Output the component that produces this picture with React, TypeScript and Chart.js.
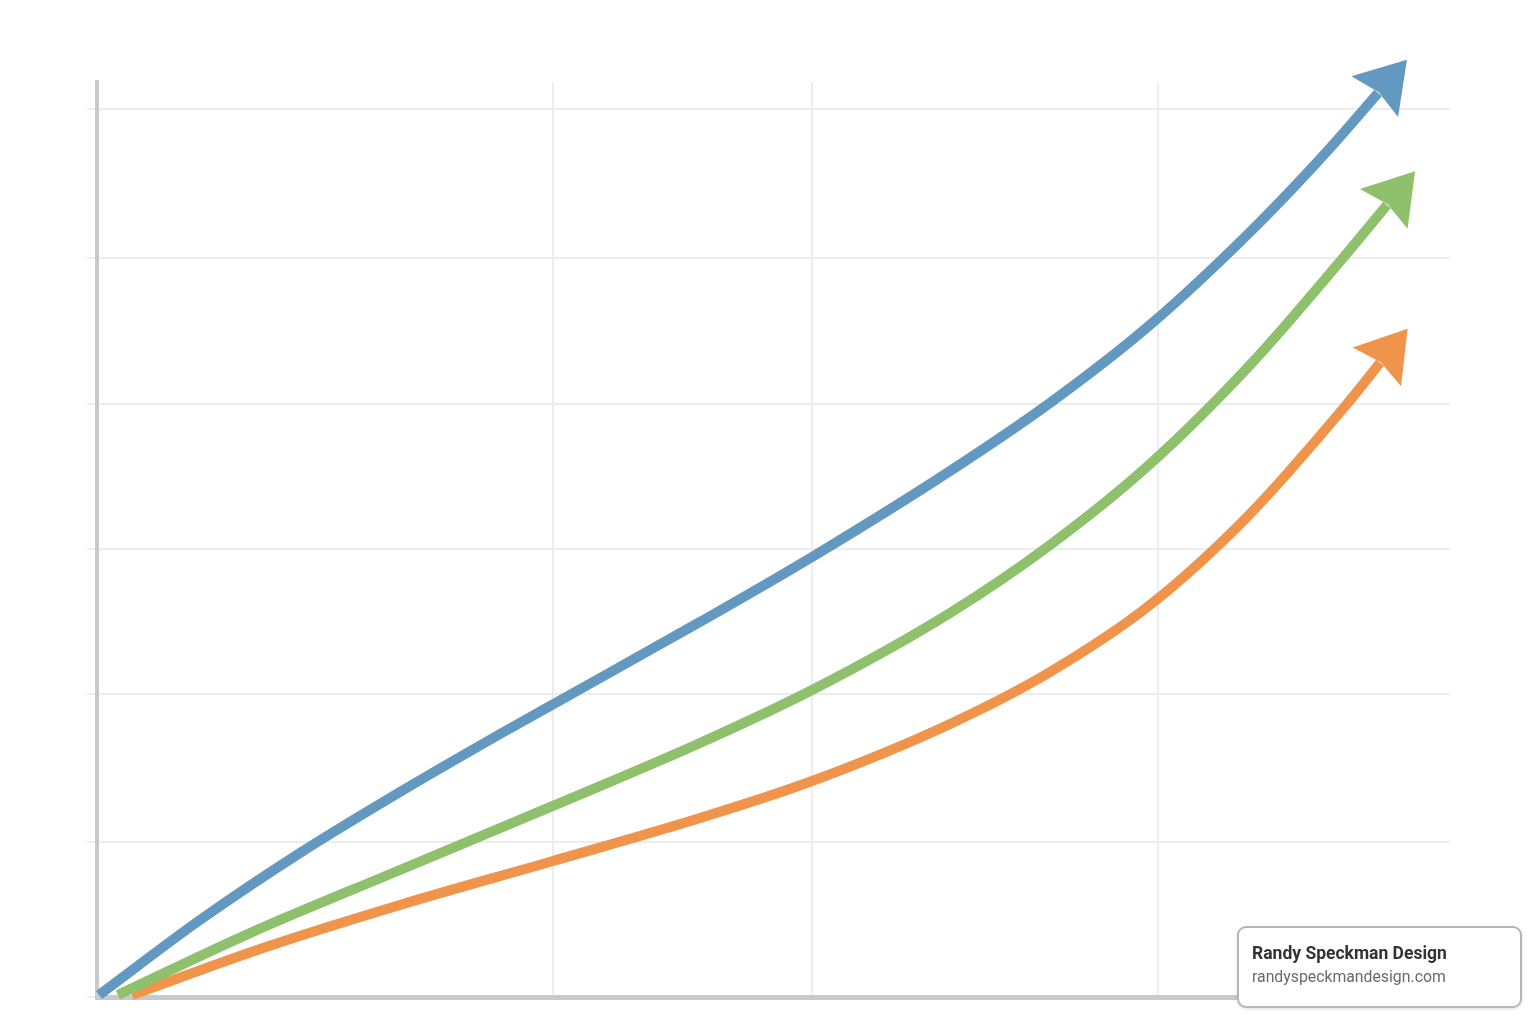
import React, { useEffect, useRef } from "react";
import { Chart, registerables } from "chart.js";

Chart.register(...registerables);

// Scale: x runs 0..100 across the plot, y runs 0..6.18 (gridlines near each whole unit)
const xGridValues = [0, 33.7, 52.85, 78.42];
const yGridValues = [0, 1.047, 2.047, 3.03, 4.007, 4.99, 6.0];
const xMax = 100;
const yMax = 6.182;

// Blue series (top curve)
const blueX = [0.15, 7.61, 15.0, 22.39, 29.79, 34.0, 44.57, 52.85, 63.05, 70.44, 77.83, 85.22, 91.13, 94.68];
const blueY = [0.014, 0.52, 0.973, 1.385, 1.777, 1.993, 2.534, 2.973, 3.554, 4.014, 4.541, 5.169, 5.736, 6.108];

// Green series (middle curve)
const greenX = [1.55, 11.31, 22.39, 33.7, 44.57, 52.85, 63.05, 70.44, 77.83, 85.22, 92.09, 95.34];
const greenY = [0.014, 0.432, 0.858, 1.291, 1.716, 2.074, 2.595, 3.054, 3.601, 4.27, 4.993, 5.351];

// Orange series (bottom curve)
const orangeX = [2.59, 12.49, 22.39, 33.7, 44.57, 52.85, 63.05, 70.44, 77.83, 85.22, 92.39, 94.83];
const orangeY = [0.014, 0.338, 0.622, 0.919, 1.209, 1.459, 1.845, 2.196, 2.649, 3.264, 4.007, 4.284];

const seriesColors = ["#6399c1", "#8fc06b", "#f0944b"];

const toPoints = (xs: number[], ys: number[]) => xs.map((x, i) => ({ x, y: ys[i] }));

const arrowPlugin = {
  id: "arrowHeads",
  afterDatasetsDraw(chart: any) {
    const ctx = chart.ctx;
    for (let i = chart.data.datasets.length - 1; i >= 0; i--) {
      const meta = chart.getDatasetMeta(i);
      const pts = meta.data;
      const n = pts.length;
      if (n < 2) continue;
      const e = pts[n - 1];
      const p = pts[n - 2];
      let dx = e.x - p.x;
      let dy = e.y - p.y;
      const len = Math.hypot(dx, dy) || 1;
      dx /= len;
      dy /= len;
      const px = -dy;
      const py = dx;
      const L = 44;
      const back = 5;
      const half = 31;
      ctx.save();
      ctx.fillStyle = chart.data.datasets[i].borderColor;
      ctx.beginPath();
      ctx.moveTo(e.x + dx * L, e.y + dy * L);
      ctx.lineTo(e.x - dx * back + px * half, e.y - dy * back + py * half);
      ctx.lineTo(e.x + dx * 1, e.y + dy * 1);
      ctx.lineTo(e.x - dx * back - px * half, e.y - dy * back - py * half);
      ctx.closePath();
      ctx.fill();
      ctx.restore();
    }
  },
};

export default function App() {
  const canvasRef = useRef<HTMLCanvasElement | null>(null);

  useEffect(() => {
    const canvas = canvasRef.current;
    if (!canvas) return;
    const gridColor = "#ededed";
    const axisColor = "#c9c9cb";
    const chart = new Chart(canvas, {
      type: "line",
      data: {
        datasets: [
          { data: toPoints(blueX, blueY), borderColor: seriesColors[0] },
          { data: toPoints(greenX, greenY), borderColor: seriesColors[1] },
          { data: toPoints(orangeX, orangeY), borderColor: seriesColors[2] },
        ].map((d) => ({
          ...d,
          borderWidth: 10,
          pointRadius: 0,
          fill: false,
          cubicInterpolationMode: "monotone" as const,
          borderCapStyle: "butt" as const,
          clip: false as any,
        })),
      },
      options: {
        animation: false,
        responsive: false,
        devicePixelRatio: 1,
        layout: { padding: { left: 0, top: 82, right: 86, bottom: 0 } },
        plugins: { legend: { display: false }, tooltip: { enabled: false } },
        scales: {
          x: {
            type: "linear",
            min: 0,
            max: xMax,
            afterBuildTicks: (s: any) => {
              s.ticks = xGridValues.map((v) => ({ value: v }));
            },
            afterFit: (s: any) => {
              s.height = 27;
            },
            ticks: { display: false },
            grid: { color: gridColor, lineWidth: 2, drawTicks: false },
            border: { color: axisColor, width: 5 },
          },
          y: {
            type: "linear",
            min: 0,
            max: yMax,
            afterBuildTicks: (s: any) => {
              s.ticks = yGridValues.map((v) => ({ value: v }));
            },
            afterFit: (s: any) => {
              s.width = 97;
            },
            ticks: { display: false },
            grid: { color: gridColor, lineWidth: 2, drawTicks: true, tickLength: 10 },
            border: { color: axisColor, width: 4 },
          },
        },
      },
      plugins: [arrowPlugin],
    });
    return () => chart.destroy();
  }, []);

  return (
    <div
      style={{
        position: "absolute",
        left: 0,
        top: 0,
        width: 1536,
        height: 1024,
        background: "#ffffff",
        overflow: "hidden",
      }}
    >
      <canvas
        ref={canvasRef}
        width={1536}
        height={1024}
        style={{ display: "block", width: 1536, height: 1024 }}
      />
      <div
        style={{
          position: "absolute",
          left: 1237,
          top: 926,
          width: 285,
          height: 82,
          boxSizing: "border-box",
          border: "2px solid #b6b6b6",
          borderRadius: 9,
          background: "#ffffff",
          boxShadow: "0 1px 3px rgba(0,0,0,0.12)",
          padding: "14px 0 0 13px",
          fontFamily: "Roboto, 'Noto Sans', sans-serif",
        }}
      >
        <div style={{ fontSize: 17.5, fontWeight: 700, color: "#333333", lineHeight: "23px" }}>
          Randy Speckman Design
        </div>
        <div style={{ fontSize: 15.8, fontWeight: 400, color: "#6a6a6a", lineHeight: "23px" }}>
          randyspeckmandesign.com
        </div>
      </div>
    </div>
  );
}
